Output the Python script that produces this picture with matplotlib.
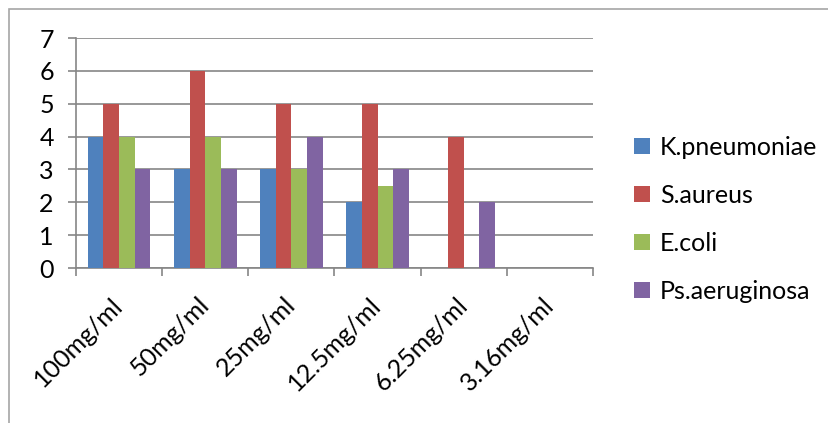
import matplotlib.pyplot as plt
import numpy as np
from matplotlib.patches import Rectangle

plt.rcParams['font.family'] = ['Lato', 'DejaVu Sans']

concentrations = ["100mg/ml", "50mg/ml", "25mg/ml", "12.5mg/ml", "6.25mg/ml", "3.16mg/ml"]
k_pneumoniae = [4, 3, 3, 2, 0, 0]
s_aureus = [5, 6, 5, 5, 4, 0]
e_coli = [4, 4, 3, 2.5, 0, 0]
ps_aeruginosa = [3, 3, 4, 3, 2, 0]

series = [("K.pneumoniae", k_pneumoniae, "#4F81BD"),
          ("S.aureus", s_aureus, "#C0504D"),
          ("E.coli", e_coli, "#9BBB59"),
          ("Ps.aeruginosa", ps_aeruginosa, "#8064A2")]

fig = plt.figure(figsize=(8.29, 4.23), dpi=100)
# light border round the chart area
fig.patches.append(Rectangle((9/829, -0.05), 1.0, 1 - 9/423 + 0.05,
                             transform=fig.transFigure, fill=False,
                             edgecolor="#A6A6A6", linewidth=1.2))

ax = fig.add_axes([76/829, 1 - 268/423, (593 - 76)/829, (268 - 38)/423])

x = np.arange(len(concentrations))
w = 1 / 5.5
for i, (name, vals, col) in enumerate(series):
    ax.bar(x + (i - 1.5) * w, vals, width=w, color=col, label=name, zorder=3)

ax.set_xlim(-0.5, len(concentrations) - 0.5)
ax.set_ylim(0, 7)
ax.set_yticks(range(8))
ax.yaxis.grid(True, color="#868686", linewidth=1.2, zorder=0)
for s in ["top", "right"]:
    ax.spines[s].set_visible(False)
for s in ["left", "bottom"]:
    ax.spines[s].set_color("#868686")
    ax.spines[s].set_linewidth(1.2)

ax.set_xticks(np.arange(-0.5, len(concentrations)), minor=False)
ax.set_xticklabels([])
ax.set_xticks(x, minor=True)
ax.set_xticklabels(concentrations, minor=True, rotation=45, ha="right",
                   va="center", rotation_mode="anchor", fontsize=18)
ax.tick_params(axis="x", which="major", length=6, color="#868686", width=1.2)
ax.tick_params(axis="x", which="minor", length=0, pad=24)
ax.tick_params(axis="y", length=6, color="#868686", width=1.2, labelsize=18, pad=10)

fig.legend(loc="center left", bbox_to_anchor=(612/829, 1 - 219/423), frameon=False,
           fontsize=18, handlelength=0.62, handleheight=0.62, handletextpad=0.4,
           labelspacing=1.0)

fig.savefig("out.png", dpi=100)
